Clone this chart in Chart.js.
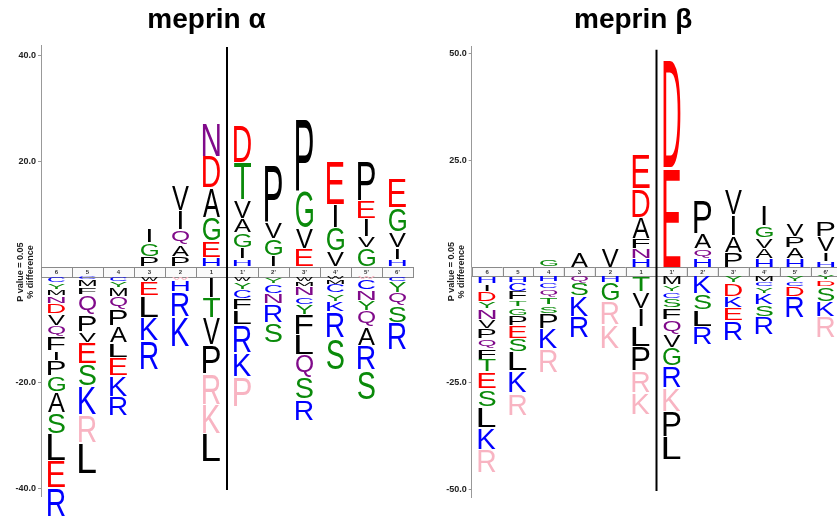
<!DOCTYPE html>
<html>
<head>
<meta charset="utf-8">
<script src="https://cdn.jsdelivr.net/npm/chart.js@4.4.1/dist/chart.umd.min.js"></script>
<style>
  html, body { margin: 0; padding: 0; background: #fff; overflow: hidden; width: 837px; height: 517px; }
  canvas { position: absolute; top: 0; }
  #alpha { left: 0; }
  #beta { left: 425px; }
</style>
</head>
<body>
<canvas id="alpha" width="422" height="517"></canvas>
<canvas id="beta" width="476" height="517"></canvas>
<script>
// positions around the cleavage site
const positions = ["6", "5", "4", "3", "2", "1", "1'", "2'", "3'", "4'", "5'", "6'"];

// meprin alpha - over-represented (bottom to top), lowercase = pink
const alphaUpLetters = ["", "", "", "PGI", "PAQIV", "HEGADN", "HIGAVTD", "IGVP", "EVGP", "VGIE", "GVIEP", "HIVGE"];
const alphaUpValues = [
  [], [], [],
  [2.0, 2.6, 2.8],
  [2.0, 2.3, 2.8, 3.6, 4.8],
  [1.7, 3.2, 4.5, 5.5, 6.0, 6.3],
  [1.5, 2.1, 2.8, 2.8, 3.4, 7.2, 7.0],
  [2.1, 3.2, 3.3, 10.8],
  [3.4, 4.0, 7.0, 13.6],
  [3.0, 4.4, 4.4, 8.4],
  [3.6, 2.2, 3.4, 3.4, 7.6],
  [1.4, 2.3, 3.0, 4.5, 5.6]
];
// meprin alpha - under-represented (top to bottom)
const alphaDownLetters = ["CYMNDVQFIPGASLER", "CMFQPVESKrL", "CYMQPALEKR", "WELKR", "wHRK", "ITVPrkL",
  "WYCFLRKp", "YCNRS", "WMNCYFLQSR", "WMCYKRS", "wCNYQARS", "CYQSR"];
const alphaDownValues = [
  [1.14, 1.14, 1.26, 1.5, 1.96, 2.27, 2.08, 2.59, 1.83, 2.96, 3.09, 3.85, 4.04, 5.1, 5.05, 5.55],
  [0.5, 1.39, 1.45, 3.72, 3.22, 2.08, 4.1, 4.23, 5.36, 5.23, 5.93],
  [0.76, 1.2, 1.77, 2.4, 3.15, 3.22, 2.71, 3.47, 3.97, 3.6],
  [0.9, 2.7, 4.1, 4.4, 5.5],
  [0.6, 2.2, 4.8, 5.5],
  [3.9, 3.9, 5.0, 5.4, 5.9, 5.5, 5.4],
  [0.8, 1.6, 1.7, 2.1, 2.8, 5.3, 4.5, 5.7],
  [1.3, 1.8, 2.0, 3.5, 3.9],
  [0.8, 1.0, 1.8, 1.6, 1.9, 3.8, 3.8, 4.2, 4.2, 4.0],
  [0.5, 0.85, 1.7, 1.6, 1.9, 5.0, 6.0],
  [0.5, 2.0, 1.9, 1.9, 3.2, 3.4, 4.7, 5.7],
  [0.9, 2.1, 2.3, 3.4, 5.1]
];
const alphaTicks = [40, 20, -20, -40];

// meprin beta
const betaUpLetters = ["", "", "G", "A", "V", "HNFADE", "ED", "HQAP", "PAIV", "HAVGI", "HAPV", "HIVP"];
const betaUpValues = [
  [], [],
  [1.95],
  [3.6],
  [4.5],
  [2.1, 2.3, 2.3, 5.0, 6.7, 8.2],
  [23.3, 25.2],
  [2.1, 2.3, 3.5, 7.7],
  [3.5, 4.0, 4.7, 5.9],
  [2.0, 2.4, 2.4, 2.9, 4.8],
  [2.0, 2.6, 2.6, 3.1],
  [1.4, 2.2, 3.6, 3.6]
];
const betaDownLetters = ["HIDYNVPQFTESLKr", "HCFTGPESLKr", "HCQTSPKr", "QSKR", "HGrk", "TVILPrk",
  "MYCSFQVGRkPL", "KSLR", "YDKER", "MCYKSR", "YCDR", "YDSKr"];
const betaDownValues = [
  [1.9, 1.8, 2.3, 1.8, 2.5, 2.2, 2.3, 2.3, 2.5, 3.0, 3.9, 4.2, 4.9, 5.1, 5.5],
  [1.6, 2.1, 2.0, 1.6, 2.0, 2.3, 3.1, 3.1, 4.5, 5.2, 5.2],
  [1.3, 1.6, 2.0, 2.0, 2.0, 3.5, 4.7, 5.5],
  [1.7, 3.1, 4.7, 5.1],
  [1.7, 4.3, 5.5, 5.5],
  [3.75, 4.0, 4.2, 4.7, 5.6, 5.2, 5.2],
  [2.1, 1.6, 1.6, 2.3, 2.7, 3.5, 3.1, 4.3, 5.1, 5.5, 5.9, 5.4],
  [4.1, 3.9, 3.9, 4.3],
  [1.7, 3.1, 2.7, 3.1, 4.7],
  [1.3, 1.2, 1.6, 2.7, 2.7, 4.3],
  [1.3, 1.2, 2.3, 5.1],
  [0.9, 1.6, 3.5, 3.5, 5.1]
];
const betaTicks = [50, 25, -25, -50];

const FONT = '"Liberation Sans", Arial, sans-serif';
Chart.defaults.font.family = FONT;

const residueColors = {
  D: "#ff0000", E: "#ff0000",
  G: "#0a8a0a", S: "#0a8a0a", T: "#0a8a0a", Y: "#0a8a0a",
  K: "#0000ff", R: "#0000ff", H: "#0000ff", C: "#0000ff",
  N: "#800a8a", Q: "#800a8a"
};
const pink = "#f8b4c2";

const sum = (arr) => arr.reduce((a, b) => a + b, 0);

// one dataset per stack level, floating bars [start, end]
const buildDatasets = (upLetters, upValues, downLetters, downValues, gap) => {
  const datasets = [];
  const addLevels = (letters, values, sign) => {
    const maxLen = Math.max(...letters.map(s => s.length));
    for (let k = 0; k < maxLen; k++) {
      const data = [];
      const chars = [];
      letters.forEach((s, i) => {
        if (k < s.length) {
          const start = sum(values[i].slice(0, k));
          const end = start + values[i][k];
          data.push(sign > 0 ? [start, end] : [-gap - start, -gap - end]);
          chars.push(s[k]);
        } else {
          data.push(null);
          chars.push(null);
        }
      });
      datasets.push({
        data,
        letters: chars,
        backgroundColor: "rgba(0,0,0,0)",
        borderWidth: 0,
        barThickness: 17,
        grouped: false
      });
    }
  };
  addLevels(upLetters, upValues, 1);
  addLevels(downLetters, downValues, -1);
  return datasets;
};

const drawLetter = (ctx, ch, x, y, w, h) => {
  const up = ch.toUpperCase();
  const color = ch !== up ? pink : (residueColors[up] || "#000");
  ctx.save();
  ctx.font = "100px " + FONT;
  const m = ctx.measureText(up);
  const gw = m.actualBoundingBoxLeft + m.actualBoundingBoxRight;
  const gh = m.actualBoundingBoxAscent + m.actualBoundingBoxDescent;
  const pad = Math.min(0.8, h * 0.1);
  let sx = w / gw;
  let x0 = x;
  if (up === "I") {
    const mh = ctx.measureText("H");
    sx = w / (mh.actualBoundingBoxLeft + mh.actualBoundingBoxRight);
    x0 = x + w / 2 - (gw * sx) / 2;
  }
  ctx.fillStyle = color;
  ctx.translate(x0, y + pad);
  ctx.scale(sx, Math.max(h - 2 * pad, 0.3) / gh);
  ctx.textAlign = "left";
  ctx.textBaseline = "alphabetic";
  ctx.fillText(up, m.actualBoundingBoxLeft, m.actualBoundingBoxAscent);
  ctx.restore();
};

const logoPlugin = {
  id: "logo",
  afterDatasetsDraw(chart, args, opts) {
    const ctx = chart.ctx;
    const xs = chart.scales.x;
    const ys = chart.scales.y;
    const area = chart.chartArea;
    const gap = opts.gap;

    // position strip
    const colW = area.width / positions.length;
    const yTop = ys.getPixelForValue(0);
    const yBot = ys.getPixelForValue(-gap);
    ctx.save();
    positions.forEach((p, i) => {
      const cx = xs.getPixelForValue(i);
      ctx.fillStyle = "#fafafa";
      ctx.fillRect(cx - colW / 2, yTop, colW, yBot - yTop);
      ctx.strokeStyle = "#8a8a8a";
      ctx.lineWidth = 1;
      ctx.strokeRect(Math.round(cx - colW / 2) + 0.5, Math.round(yTop) + 0.5, colW, Math.round(yBot - yTop));
      ctx.fillStyle = "#333";
      ctx.font = "bold 6px " + FONT;
      ctx.textAlign = "center";
      ctx.textBaseline = "middle";
      ctx.fillText(p, cx, (yTop + yBot) / 2 + 0.5);
    });
    ctx.restore();

    // letters
    chart.data.datasets.forEach((ds, di) => {
      const meta = chart.getDatasetMeta(di);
      meta.data.forEach((bar, i) => {
        const ch = ds.letters[i];
        if (!ch) return;
        const p = bar.getProps(["x", "y", "base", "width"], true);
        const top = Math.min(p.y, p.base);
        const bottom = Math.max(p.y, p.base);
        drawLetter(ctx, ch, p.x - p.width / 2, top, p.width, bottom - top);
      });
    });

    // cleavage line between 1 and 1'
    const lx = (xs.getPixelForValue(5) + xs.getPixelForValue(6)) / 2;
    ctx.save();
    ctx.strokeStyle = "#000";
    ctx.lineWidth = 2;
    ctx.beginPath();
    ctx.moveTo(lx, area.top + opts.lineTop);
    ctx.lineTo(lx, area.bottom - 6);
    ctx.stroke();

    // y axis caption
    ctx.fillStyle = "#222";
    ctx.font = "bold 9px " + FONT;
    ctx.textAlign = "center";
    ctx.textBaseline = "middle";
    const cy = (yTop + yBot) / 2;
    ctx.translate(area.left - 20, cy);
    ctx.rotate(-Math.PI / 2);
    ctx.fillText("P value = 0.05", 0, 0);
    ctx.fillText("% difference", 0, 10);
    ctx.restore();
  }
};

const makeChart = (id, title, up, upV, down, downV, ticks, gap, yMin, yMax, axisWidth, padding, titlePad, lineTop) => {
  new Chart(document.getElementById(id), {
    type: "bar",
    data: {
      labels: positions,
      datasets: buildDatasets(up, upV, down, downV, gap)
    },
    options: {
      responsive: false,
      animation: false,
      events: [],
      layout: { padding },
      plugins: {
        legend: { display: false },
        tooltip: { enabled: false },
        title: {
          display: true,
          text: title,
          color: "#000",
          font: { size: 28, weight: "bold", family: FONT },
          padding: titlePad
        },
        logo: { gap, lineTop }
      },
      scales: {
        x: { type: "category", display: false, offset: true },
        y: {
          min: yMin,
          max: yMax,
          afterBuildTicks: (s) => { s.ticks = ticks.map(v => ({ value: v > 0 ? v : v - gap })); },
          afterFit: (s) => { s.width = axisWidth; },
          ticks: {
            autoSkip: false,
            padding: 2,
            color: "#222",
            font: { size: 9, weight: "bold", family: FONT },
            callback: (v) => (v > 0 ? v : v + gap).toFixed(1)
          },
          grid: { drawOnChartArea: false, tickLength: 3, color: "#999" },
          border: { color: "#999" }
        }
      }
    },
    plugins: [logoPlugin]
  });
};

makeChart("alpha", "meprin α", alphaUpLetters, alphaUpValues, alphaDownLetters, alphaDownValues,
  alphaTicks, 1.9, -43.3, 42.0, 41, { left: 0, right: 9, top: 0, bottom: 21 }, { top: 3, bottom: 8.4 }, 2);
makeChart("beta", "meprin β", betaUpLetters, betaUpValues, betaDownLetters, betaDownValues,
  betaTicks, 2.0, -53.8, 51.7, 46.7, { left: 0, right: 59.7, top: 0, bottom: 20 }, { top: 3, bottom: 10.1 }, 3);
</script>
</body>
</html>
